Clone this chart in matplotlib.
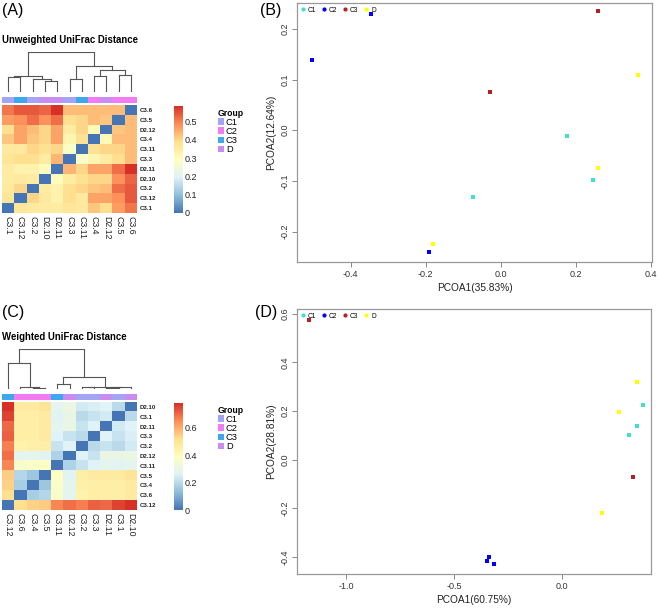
import matplotlib
matplotlib.use('Agg')
import matplotlib.pyplot as plt
import numpy as np
from matplotlib.colors import LinearSegmentedColormap, ListedColormap
from matplotlib.lines import Line2D
from matplotlib.patches import Patch

plt.rcParams['font.family'] = ['Liberation Sans', 'DejaVu Sans']
plt.rcParams['axes.unicode_minus'] = False

# ---------------- data ----------------
groups = ['C1', 'C2', 'C3', 'D']
group_colors = ['#a4a4f4', '#f27af2', '#3ca8ee', '#c98cf0']   # heatmap annotation
pcoa_colors = ['#40e0d0', '#0000ff', '#b22222', '#ffff00']    # PCoA points

# (A) unweighted UniFrac, samples in column order
unw_samples = ['C3.1', 'C3.12', 'C3.2', 'D2.10', 'D2.11', 'C3.3',
               'C3.11', 'C3.4', 'D2.12', 'C3.5', 'C3.6']
unw_groups = ['C1', 'C3', 'C1', 'D', 'D', 'C1', 'C3', 'C2', 'D', 'C2', 'C2']
unw_dist = [
    [0.00, 0.37, 0.36, 0.35, 0.35, 0.37, 0.36, 0.42, 0.39, 0.47, 0.51],
    [0.37, 0.00, 0.40, 0.36, 0.33, 0.39, 0.36, 0.46, 0.46, 0.48, 0.54],
    [0.36, 0.40, 0.00, 0.35, 0.33, 0.39, 0.40, 0.42, 0.43, 0.52, 0.54],
    [0.35, 0.36, 0.35, 0.00, 0.30, 0.35, 0.38, 0.40, 0.40, 0.48, 0.53],
    [0.35, 0.33, 0.33, 0.30, 0.00, 0.44, 0.40, 0.46, 0.46, 0.52, 0.585],
    [0.37, 0.39, 0.39, 0.35, 0.44, 0.00, 0.28, 0.32, 0.35, 0.39, 0.43],
    [0.36, 0.36, 0.40, 0.38, 0.40, 0.28, 0.00, 0.38, 0.40, 0.40, 0.43],
    [0.42, 0.46, 0.42, 0.40, 0.46, 0.32, 0.38, 0.00, 0.31, 0.43, 0.43],
    [0.39, 0.46, 0.43, 0.40, 0.46, 0.35, 0.40, 0.31, 0.00, 0.42, 0.43],
    [0.47, 0.48, 0.52, 0.48, 0.52, 0.39, 0.40, 0.43, 0.42, 0.00, 0.43],
    [0.51, 0.54, 0.54, 0.53, 0.585, 0.43, 0.43, 0.43, 0.43, 0.43, 0.00],
]
# hclust merges: (child a, child b, relative height); ids >= 11 are clusters
unw_merges = [(0, 1, 0.375), (3, 4, 0.283), (2, 12, 0.333), (11, 13, 0.40),
              (5, 6, 0.333), (7, 8, 0.392), (9, 10, 0.433), (16, 17, 0.542),
              (15, 18, 0.65), (14, 19, 1.0)]
unw_ticks = [0, 0.1, 0.2, 0.3, 0.4, 0.5]

# (C) weighted UniFrac
w_samples = ['C3.12', 'C3.6', 'C3.4', 'C3.5', 'C3.11', 'D2.12',
             'C3.2', 'C3.3', 'D2.11', 'C3.1', 'D2.10']
w_groups = ['C3', 'C2', 'C2', 'C2', 'C3', 'D', 'C1', 'C1', 'D', 'C1', 'D']
w_dist = [
    [0.00, 0.52, 0.54, 0.55, 0.66, 0.69, 0.67, 0.71, 0.70, 0.75, 0.78],
    [0.52, 0.00, 0.17, 0.19, 0.36, 0.28, 0.44, 0.46, 0.46, 0.46, 0.47],
    [0.54, 0.17, 0.00, 0.15, 0.37, 0.28, 0.45, 0.46, 0.46, 0.46, 0.47],
    [0.55, 0.19, 0.15, 0.00, 0.38, 0.27, 0.46, 0.47, 0.47, 0.47, 0.50],
    [0.66, 0.36, 0.37, 0.38, 0.00, 0.18, 0.22, 0.26, 0.28, 0.27, 0.28],
    [0.69, 0.28, 0.28, 0.27, 0.18, 0.00, 0.26, 0.22, 0.30, 0.30, 0.31],
    [0.67, 0.44, 0.45, 0.46, 0.22, 0.26, 0.00, 0.20, 0.22, 0.20, 0.24],
    [0.71, 0.46, 0.46, 0.47, 0.26, 0.22, 0.20, 0.00, 0.26, 0.22, 0.25],
    [0.70, 0.46, 0.46, 0.47, 0.28, 0.30, 0.22, 0.26, 0.00, 0.24, 0.26],
    [0.75, 0.46, 0.46, 0.47, 0.27, 0.30, 0.20, 0.22, 0.24, 0.00, 0.20],
    [0.78, 0.47, 0.47, 0.50, 0.28, 0.31, 0.24, 0.25, 0.26, 0.20, 0.00],
]
w_merges = [(2, 3, 0.02), (1, 11, 0.04), (0, 12, 0.636), (4, 5, 0.127),
            (6, 7, 0.04), (8, 9, 0.03), (16, 10, 0.05), (15, 17, 0.06),
            (14, 18, 0.31), (13, 19, 1.0)]
w_ticks = [0, 0.2, 0.4, 0.6]

# (B) PCoA unweighted
b_group = ['C1', 'C1', 'C1', 'C2', 'C2', 'C2', 'C3', 'C3', 'D', 'D', 'D']
b_pc1 = [0.176, 0.247, -0.073, -0.504, -0.347, -0.191, -0.028, 0.259, 0.367, 0.260, -0.180]
b_pc2 = [-0.011, -0.098, -0.132, 0.138, 0.230, -0.241, 0.075, 0.235, 0.109, -0.074, -0.224]

# (D) PCoA weighted
d_group = ['C1', 'C1', 'C1', 'C2', 'C2', 'C2', 'C3', 'C3', 'D', 'D', 'D']
d_pc1 = [0.375, 0.346, 0.307, -0.340, -0.348, -0.317, -1.169, 0.329, 0.346, 0.260, 0.185]
d_pc2 = [0.226, 0.139, 0.100, -0.401, -0.416, -0.429, 0.575, -0.070, 0.318, 0.198, -0.220]

# ---------------- figure ----------------
W, H = 659, 608
fig = plt.figure(figsize=(W / 100, H / 100), dpi=100)


def rect(x0, y0, x1, y1):
    # pixel box (top-left origin) -> figure fraction
    return [x0 / W, 1 - y1 / H, (x1 - x0) / W, (y1 - y0) / H]


heat_cmap = LinearSegmentedColormap.from_list(
    'rdylbu_r', ['#4575b4', '#91bfdb', '#e0f3f8', '#ffffbf',
                 '#fee090', '#fc8d59', '#d73027'])


def draw_dendro(ax, merges, n):
    xs = {i: i + 0.5 for i in range(n)}
    hs = {i: 0.0 for i in range(n)}
    for k, (a, b, h) in enumerate(merges):
        for c in (a, b):
            ax.plot([xs[c], xs[c]], [hs[c], h], color='#555555', lw=0.8)
        ax.plot([xs[a], xs[b]], [h, h], color='#555555', lw=0.8)
        xs[n + k] = (xs[a] + xs[b]) / 2
        hs[n + k] = h
    ax.set_xlim(0, n)
    ax.set_ylim(0, 1.0)
    ax.axis('off')


def draw_heatmap(top, title, samples, grp, dist, merges, ticks):
    d = np.array(dist)
    n = len(samples)
    vmax = d.max()
    fig.text(2 / W, 1 - (40 + top) / H, title, fontsize=6.9,
             fontweight='bold', ha='left', va='center')

    dax = fig.add_axes(rect(2, 51.7 + top, 137, 92 + top))
    draw_dendro(dax, merges, n)

    gax = fig.add_axes(rect(2, 97 + top, 137, 103.5 + top))
    gidx = np.array([[groups.index(g) for g in grp]])
    gax.imshow(gidx, cmap=ListedColormap(group_colors), vmin=-0.5, vmax=3.5,
               aspect='auto', interpolation='nearest')
    gax.axis('off')

    hax = fig.add_axes(rect(2, 105 + top, 137, 213 + top))
    hax.imshow(d[::-1], cmap=heat_cmap, vmin=0, vmax=vmax, aspect='auto',
               interpolation='nearest')
    hax.set_xticks(range(n))
    hax.set_xticklabels(samples, rotation=270, fontsize=6.3, color='#222222')
    hax.yaxis.tick_right()
    hax.set_yticks(range(n))
    hax.set_yticklabels(samples[::-1], fontsize=4.4, fontweight='bold',
                        color='#222222')
    hax.tick_params(length=0, pad=2)
    for s in hax.spines.values():
        s.set_visible(False)

    cax = fig.add_axes(rect(174, 106 + top, 183, 213 + top))
    grad = np.linspace(0, vmax, 256)[:, None]
    cax.imshow(grad, cmap=heat_cmap, origin='lower', aspect='auto',
               extent=[0, 1, 0, vmax])
    cax.set_xticks([])
    cax.yaxis.tick_right()
    cax.set_yticks(ticks)
    cax.set_yticklabels(['0' if t == 0 else f'{t:g}' for t in ticks],
                        fontsize=6.5, color='#222222')
    cax.tick_params(length=0, pad=1.5)
    for s in cax.spines.values():
        s.set_visible(False)

    handles = [Patch(facecolor=c, edgecolor='none', label=g)
               for g, c in zip(groups, group_colors)]
    fig.legend(handles=handles, title='Group', loc='upper left',
               bbox_to_anchor=(211 / W, 1 - (102 + top) / H),
               frameon=False, fontsize=6.7, handlelength=0.7,
               handleheight=0.7, handletextpad=0.2, labelspacing=0.02,
               borderpad=0.2, alignment='left',
               title_fontproperties={'weight': 'bold', 'size': 6.2})


def draw_pcoa(box, gg, px, py, xlim, ylim, xticks, yticks, xlabel, ylabel):
    ax = fig.add_axes(rect(*box))
    for g, c in zip(groups, pcoa_colors):
        xs = [x for x, k in zip(px, gg) if k == g]
        ys = [y for y, k in zip(py, gg) if k == g]
        ax.scatter(xs, ys, marker='s', s=9, color=c, linewidths=0, zorder=3)
    ax.set_xlim(*xlim)
    ax.set_ylim(*ylim)
    ax.set_xticks(xticks)
    ax.set_xticklabels([f'{t:.1f}' for t in xticks])
    ax.set_yticks(yticks)
    ax.set_yticklabels([f'{t:.1f}' for t in yticks], rotation=90, va='center')
    ax.tick_params(direction='out', length=3.5, width=0.7, color='#888888',
                   labelsize=6.5, labelcolor='#333333', pad=2)
    for s in ax.spines.values():
        s.set_color('#999999')
        s.set_linewidth(0.9)
    ax.set_xlabel(xlabel, fontsize=7.3, color='#222222', labelpad=3)
    ax.set_ylabel(ylabel, fontsize=7.3, color='#222222', labelpad=3)
    hl = [Line2D([], [], ls='none', marker='o', markersize=2, color=c,
                 label=g) for g, c in zip(groups, pcoa_colors)]
    ax.legend(handles=hl, loc='upper left', ncol=4, frameon=False,
              fontsize=4.8, handlelength=0.8, handletextpad=0.3,
              columnspacing=0.8, borderaxespad=0.25, borderpad=0.3)
    return ax


draw_heatmap(0, 'Unweighted UniFrac Distance', unw_samples, unw_groups,
             unw_dist, unw_merges, unw_ticks)
draw_heatmap(297, 'Weighted UniFrac Distance', w_samples, w_groups,
             w_dist, w_merges, w_ticks)

draw_pcoa((297, 3, 652, 262), b_group, b_pc1, b_pc2,
          (-0.543, 0.403), (-0.26, 0.251),
          [-0.4, -0.2, 0.0, 0.2, 0.4], [-0.2, -0.1, 0.0, 0.1, 0.2],
          'PCOA1(35.83%)', 'PCOA2(12.64%)')
draw_pcoa((297, 309, 651, 574), d_group, d_pc1, d_pc2,
          (-1.226, 0.41), (-0.47, 0.62),
          [-1.0, -0.5, 0.0], [-0.4, -0.2, 0.0, 0.2, 0.4, 0.6],
          'PCOA1(60.75%)', 'PCOA2(28.81%)')

for lab, x, y in [('(A)', 2, 10), ('(B)', 260, 11), ('(C)', 2, 312), ('(D)', 255, 313)]:
    fig.text(x / W, 1 - y / H, lab, fontsize=11.5, ha='left', va='center')

fig.savefig('out.png', dpi=100)
